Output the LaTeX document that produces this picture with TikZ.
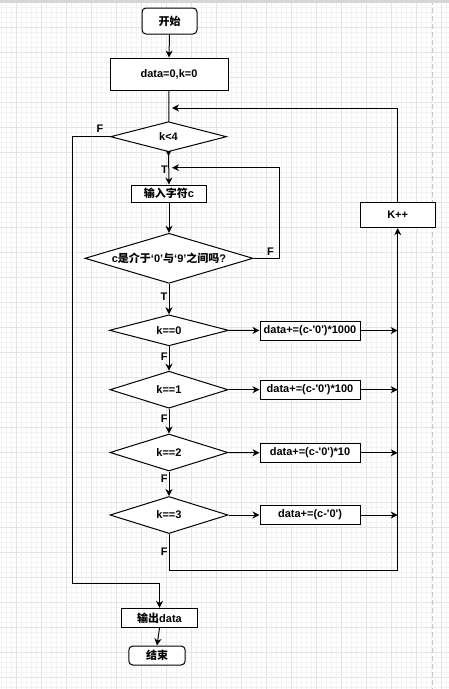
\documentclass[tikz,border=0pt]{standalone}
\usepackage{fontspec}
\setmainfont{Liberation Sans}
\newfontfamily\zh{Noto Sans CJK SC}
\usetikzlibrary{shapes.geometric,arrows.meta,backgrounds}
\definecolor{gridminor}{HTML}{F3F3F3}
\definecolor{gridmajor}{HTML}{E4E4E4}
\definecolor{pageline}{HTML}{C4C4C4}
\definecolor{topband}{HTML}{D6D6D6}
\tikzset{
  base/.style={draw=black, line width=1pt, fill=white, font=\fontsize{11}{13}\selectfont\bfseries, inner sep=0pt},
  proc/.style={base, rectangle},
  term/.style={base, rectangle, rounded corners=4pt},
  dec/.style={base, diamond},
  arr/.style={draw=black, line width=1pt, -{Stealth[length=7pt,width=7pt,inset=2.2pt]}},
  line/.style={draw=black, line width=1pt},
  lbl/.style={font=\fontsize{11}{13}\selectfont\bfseries, inner sep=0pt}
}
\begin{document}
\begin{tikzpicture}[x=1pt,y=-1pt]
\useasboundingbox (0,0) rectangle (449,689);
% nodes
\node[term, minimum width=55pt, minimum height=26pt] (start) at (169.5,21) {\zh 开始};
\node[proc, minimum width=118pt, minimum height=32pt] (init) at (169,74) {data=0,k=0};
\node[dec, minimum width=116pt, minimum height=30pt, shape aspect=3.8] (k4) at (168.5,136.7) {k<4};
\node[proc, minimum width=75pt, minimum height=17.3pt] (input) at (169,193.7) {{\zh 输入字符}c};
\node[dec, minimum width=168pt, minimum height=50pt, shape aspect=3.36] (cd) at (169,258.3) {c{\zh 是介于}‘0’{\zh 与}‘9’{\zh 之间吗}?};
\node[dec, minimum width=119pt, minimum height=31pt, shape aspect=3.8] (k0) at (169,330.3) {k==0};
\node[dec, minimum width=118pt, minimum height=37pt, shape aspect=3.2] (k1) at (169,389.7) {k==1};
\node[dec, minimum width=118pt, minimum height=37pt, shape aspect=3.2] (k2) at (169,452.5) {k==2};
\node[dec, minimum width=118pt, minimum height=37pt, shape aspect=3.2] (k3) at (169,515) {k==3};
\node[proc, minimum width=100pt, minimum height=19pt] (b0) at (310,330.5) {data+=(c-\textquotesingle0\textquotesingle)*1000};
\node[proc, minimum width=100pt, minimum height=19pt] (b1) at (310,389.7) {data+=(c-\textquotesingle0\textquotesingle)*100};
\node[proc, minimum width=100pt, minimum height=19pt] (b2) at (310,452.8) {data+=(c-\textquotesingle0\textquotesingle)*10};
\node[proc, minimum width=100pt, minimum height=19pt] (b3) at (310,515) {data+=(c-\textquotesingle0\textquotesingle)};
\node[proc, minimum width=75pt, minimum height=25.3pt] (kpp) at (397.7,215) {K++};
\node[proc, minimum width=75.3pt, minimum height=19.3pt] (out) at (159.5,618) {{\zh 输出}data};
\node[term, minimum width=56.3pt, minimum height=19pt] (end) at (157,655.5) {\zh 结束};
% background: grid and hidden edge
\begin{scope}[on background layer]
  \fill[white] (0,0) rectangle (449,689);
  \foreach \i in {0,...,89} {\draw[gridminor, line width=0.8pt] ({1.7+5*\i},0) -- ({1.7+5*\i},689);}
  \foreach \i in {0,...,137} {\draw[gridminor, line width=0.8pt] (0,{2.3+5*\i}) -- (449,{2.3+5*\i});}
  \foreach \i in {0,...,17} {\draw[gridmajor, line width=0.8pt] ({16.7+25*\i},0) -- ({16.7+25*\i},689);}
  \foreach \i in {0,...,27} {\draw[gridmajor, line width=0.8pt] (0,{2.3+25*\i}) -- (449,{2.3+25*\i});}
  \draw[pageline, line width=1pt, dash pattern=on 5pt off 3pt] (432.3,0) -- (432.3,689);
  \fill[topband] (0,0) rectangle (449,2.6);
  \draw[arr] (init.south) -- ([yshift=-4pt]k4.south);
\end{scope}
% connectors
\coordinate (j1) at (172,108);
\coordinate (j2) at (172,167.7);
\coordinate (c1) at (279,167.7);
\coordinate (o1) at (72.7,583.3);
\coordinate (bt) at (397.7,570.7);
\coordinate (r0) at (397.7,330.5);
\coordinate (r1) at (397.7,389.7);
\coordinate (r2) at (397.7,452.8);
\coordinate (r3) at (397.7,515);
\draw[arr] (start.south) -- (init.north);
\draw[arr] (kpp.north) |- (j1);
\draw[arr] (k4.south) -- (input.north);
\draw[arr] (k4.west) -| (o1) -| (out.north);
\draw[arr] (input.south) -- (cd.north);
\draw[arr] (cd.east) -| (c1) -- (j2);
\draw[arr] (cd.south) -- (k0.north);
\draw[arr] (k0.east) -- (b0.west);
\draw[arr] (k1.east) -- (b1.west);
\draw[arr] (k2.east) -- (b2.west);
\draw[arr] (k3.east) -- (b3.west);
\draw[arr] (b0.east) -- (r0);
\draw[arr] (b1.east) -- (r1);
\draw[arr] (b2.east) -- (r2);
\draw[arr] (b3.east) -- (r3);
\draw[arr] (k0.south) -- (k1.north);
\draw[arr] (k1.south) -- (k2.north);
\draw[arr] (k2.south) -- (k3.north);
\draw[arr] (k3.south) |- (bt) -- (kpp.south);
\draw[arr] (out.south) -- (end.north);
% labels
\node[lbl] (fk4) at (100,128.7) {F};
\node[lbl] (tk4) at (164.5,170) {T};
\node[lbl] (fcd) at (270.5,251.7) {F};
\node[lbl] (tcd) at (164,297) {T};
\node[lbl] (f0) at (164.2,357) {F};
\node[lbl] (f1) at (164.2,419) {F};
\node[lbl] (f2) at (164.2,479) {F};
\node[lbl] (f3) at (164.2,551.7) {F};
\end{tikzpicture}
\end{document}
